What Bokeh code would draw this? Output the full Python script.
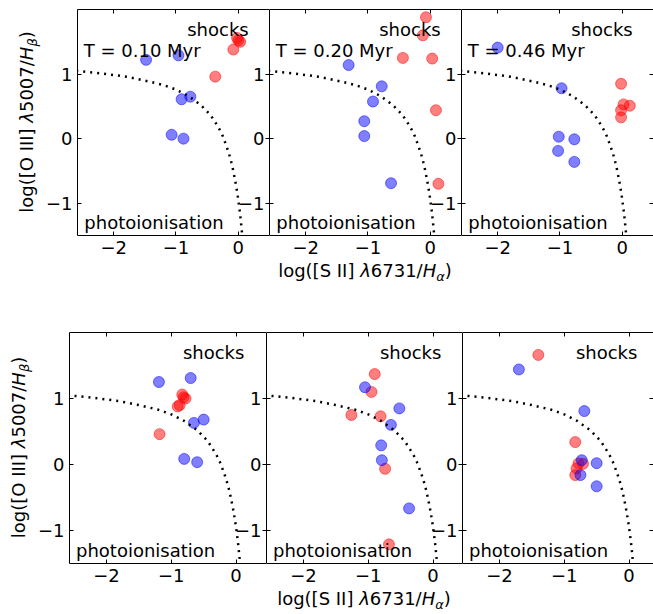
from bokeh.plotting import figure
from bokeh.models import Range1d, LinearAxis, FixedTicker, Label, Div
from bokeh.layouts import column, row
from bokeh.embed import file_html
from bokeh.resources import INLINE

FONT = "DejaVu Sans"

# ---------------- data ----------------
x_ticks = [-2, -1, 0]
y_ticks = [-1, 0, 1]
x_tick_labels = {-2: "\u22122", -1: "\u22121", 0: "0"}
y_tick_labels = {-1: "\u22121", 0: "0", 1: "1"}

time_labels = ["T = 0.10 Myr", "T = 0.20 Myr", "T = 0.46 Myr"]

# demarcation curve
curve_x = [-2.6, -2.2, -1.8, -1.5, -1.2, -1.0, -0.8, -0.6, -0.45, -0.38, -0.3, -0.25,
           -0.2, -0.15, -0.1, -0.05, -0.02, 0.0, 0.03, 0.05, 0.065]
curve_y = [1.05, 1.01, 0.96, 0.90, 0.83, 0.76, 0.66, 0.52, 0.37, 0.27, 0.14, 0.04,
           -0.09, -0.23, -0.41, -0.65, -0.82, -0.95, -1.18, -1.37, -1.52]

# top row
top1_blue_x = [-1.48, -0.96, -0.91, -0.77, -1.07, -0.88]
top1_blue_y = [1.22, 1.29, 0.61, 0.65, 0.06, 0.00]
top1_red_x = [-0.37, -0.08, -0.02, 0.03, 0.00]
top1_red_y = [0.96, 1.38, 1.56, 1.50, 1.52]

top2_blue_x = [-1.31, -0.78, -0.92, -1.06, -1.06, -0.63]
top2_blue_y = [1.14, 0.81, 0.575, 0.27, 0.04, -0.69]
top2_red_x = [-0.07, -0.12, -0.44, 0.03, 0.09, 0.13]
top2_red_y = [1.88, 1.60, 1.25, 1.24, 0.44, -0.70]

top3_blue_x = [-2.00, -0.975, -1.02, -1.03, -0.77, -0.77]
top3_blue_y = [1.41, 0.78, 0.03, -0.19, -0.01, -0.36]
top3_red_x = [-0.02, 0.02, 0.12, -0.02, -0.02]
top3_red_y = [0.85, 0.53, 0.51, 0.44, 0.33]

# bottom row
bot1_blue_x = [-1.19, -0.70, -0.65, -0.50, -0.80, -0.60]
bot1_blue_y = [1.25, 1.31, 0.63, 0.68, 0.085, 0.035]
bot1_red_x = [-1.18, -0.90, -0.87, -0.83, -0.78, -0.81]
bot1_red_y = [0.46, 0.88, 0.90, 1.06, 1.00, 1.02]

bot2_blue_x = [-1.05, -0.52, -0.65, -0.80, -0.79, -0.37]
bot2_blue_y = [1.17, 0.85, 0.60, 0.29, 0.065, -0.665]
bot2_red_x = [-0.90, -0.95, -1.26, -0.81, -0.74, -0.68]
bot2_red_y = [1.37, 1.10, 0.75, 0.73, -0.065, -1.21]

bot3_blue_x = [-1.70, -0.69, -0.73, -0.75, -0.50, -0.50]
bot3_blue_y = [1.44, 0.81, 0.065, -0.16, 0.02, -0.33]
bot3_red_x = [-1.40, -0.83, -0.81, -0.83, -0.71, -0.78]
bot3_red_y = [1.66, 0.34, -0.06, -0.16, 0.01, 0.015]

Y_RANGE = (-1.5, 2.0)

XLABEL_HTML = ("log([S II] <i>\u03bb</i>6731/<i>H</i>"
               "<sub style=\"font-size:13px;vertical-align:-4px;line-height:0\"><i>\u03b1</i></sub>)")
YLABEL_HTML = ("log([O III] <i>\u03bb</i>5007/<i>H</i>"
               "<sub style=\"font-size:13px;vertical-align:-4px;line-height:0\"><i>\u03b2</i></sub>)")

TEXT_CSS = ("font-family:'DejaVu Sans';font-size:18px;line-height:18px;"
            "color:black;white-space:nowrap;")

# ---------------- helpers ----------------
def make_axis(ticks, overrides, show_labels, line=True):
    return LinearAxis(
        ticker=FixedTicker(ticks=ticks),
        major_label_overrides=overrides,
        major_tick_in=4, major_tick_out=0,
        minor_tick_line_color=None,
        major_tick_line_color="black",
        axis_line_color="black" if line else None,
        major_label_text_font=FONT,
        major_label_text_font_size="18px",
        major_label_standoff=5 if show_labels else 0,
        major_label_text_color="black" if show_labels else None,
    )


def make_panel(width, height, xr, bl, bt, bb, left_labels, right_line=True):
    p = figure(width=width, height=height,
               x_range=Range1d(*xr), y_range=Range1d(*Y_RANGE),
               output_backend="svg", toolbar_location=None,
               x_axis_location=None, y_axis_location=None,
               min_border_left=bl, min_border_right=0,
               min_border_top=bt, min_border_bottom=bb)
    p.outline_line_color = None
    p.background_fill_color = "white"
    p.border_fill_color = "white"
    p.xgrid.grid_line_color = None
    p.ygrid.grid_line_color = None
    p.add_layout(make_axis(x_ticks, x_tick_labels, True), "below")
    p.add_layout(make_axis(x_ticks, x_tick_labels, False), "above")
    p.add_layout(make_axis(y_ticks, y_tick_labels, left_labels), "left")
    p.add_layout(make_axis(y_ticks, y_tick_labels, False, right_line), "right")
    return p


def add_points(p, bx, by, rx, ry):
    p.scatter(rx, ry, size=11, line_width=1, color="red", alpha=0.5)
    p.scatter(bx, by, size=11, line_width=1, color="blue", alpha=0.5)
    p.line(curve_x, curve_y, line_color="black", line_width=2.5, line_dash="2 5")


def add_text(p, x, y, text, size="18px", **kw):
    opts = dict(text_font=FONT, text_font_size=size, text_color="black",
                text_align="left", text_baseline="alphabetic")
    opts.update(kw)
    p.add_layout(Label(x=x, y=y, text=text, **opts))


def add_next_ytick_labels(p, xr_end):
    for v in y_ticks:
        add_text(p, xr_end, v, y_tick_labels[v], size="18px",
                 x_offset=-5, text_align="right", text_baseline="middle")


def decorate(p, time_label=None):
    add_text(p, -0.82, 1.69, "shocks")
    add_text(p, -2.47, -1.30, "photoionisation")
    if time_label is not None:
        add_text(p, -2.48, 1.37, time_label)


def ylabel_div(width, height, left, frame_bottom, frame_h):
    html = ("<div style=\"position:relative;left:%dpx;top:%dpx;width:%dpx;"
            "transform-origin:0 0;transform:rotate(-90deg);text-align:center;%s\">%s</div>"
            % (left, frame_bottom, frame_h, TEXT_CSS, YLABEL_HTML))
    return Div(text=html, width=width, height=height, margin=0)


def xlabel_div(width, height, left, frame_w):
    html = ("<div style=\"position:relative;left:%dpx;top:0px;width:%dpx;"
            "text-align:center;%s\">%s</div>" % (left, frame_w, TEXT_CSS, XLABEL_HTML))
    return Div(text=html, width=width, height=height, margin=0)


# ---------------- top row ----------------
TOP_H = 262
TOP_BT = 9
top_frame_h = 226
xr_top = (-2.58, 0.5)

a1 = make_panel(228, TOP_H, xr_top, 36, TOP_BT, TOP_H - TOP_BT - top_frame_h, True)
a2 = make_panel(192, TOP_H, xr_top, 0, TOP_BT, TOP_H - TOP_BT - top_frame_h, False)
a3 = make_panel(192, TOP_H, xr_top, 0, TOP_BT, TOP_H - TOP_BT - top_frame_h, False, right_line=False)

add_points(a1, top1_blue_x, top1_blue_y, top1_red_x, top1_red_y)
add_points(a2, top2_blue_x, top2_blue_y, top2_red_x, top2_red_y)
add_points(a3, top3_blue_x, top3_blue_y, top3_red_x, top3_red_y)
for p, t in zip([a1, a2, a3], time_labels):
    decorate(p, t)
add_next_ytick_labels(a1, xr_top[1])
add_next_ytick_labels(a2, xr_top[1])

yl1 = ylabel_div(41, TOP_H, 18, TOP_BT + top_frame_h, top_frame_h)
xl1 = xlabel_div(653, 69, 41 + 228, 192)

# ---------------- bottom row ----------------
BOT_H = 259
BOT_BT = 1
bot_frame_h = 231
xr_bot = (-2.57, 0.47)
bot_ppu = 197 / (xr_bot[1] - xr_bot[0])
xr_bot2 = (xr_bot[0], xr_bot[0] + 196 / bot_ppu)
xr_bot3 = (xr_bot[0], xr_bot[0] + 191 / bot_ppu)

b1 = make_panel(233, BOT_H, xr_bot, 36, BOT_BT, BOT_H - BOT_BT - bot_frame_h, True)
b2 = make_panel(196, BOT_H, xr_bot2, 0, BOT_BT, BOT_H - BOT_BT - bot_frame_h, False)
b3 = make_panel(191, BOT_H, xr_bot3, 0, BOT_BT, BOT_H - BOT_BT - bot_frame_h, False, right_line=False)

add_points(b1, bot1_blue_x, bot1_blue_y, bot1_red_x, bot1_red_y)
add_points(b2, bot2_blue_x, bot2_blue_y, bot2_red_x, bot2_red_y)
add_points(b3, bot3_blue_x, bot3_blue_y, bot3_red_x, bot3_red_y)
for p in [b1, b2, b3]:
    decorate(p)
add_next_ytick_labels(b1, xr_bot[1])
add_next_ytick_labels(b2, xr_bot2[1])

yl2 = ylabel_div(33, BOT_H, 10, BOT_BT + bot_frame_h, bot_frame_h)
xl2 = xlabel_div(653, 24, 33 + 233, 196)

layout = column(row(yl1, a1, a2, a3), xl1, row(yl2, b1, b2, b3), xl2)

open("out.html", "w").write(file_html(layout, INLINE))
